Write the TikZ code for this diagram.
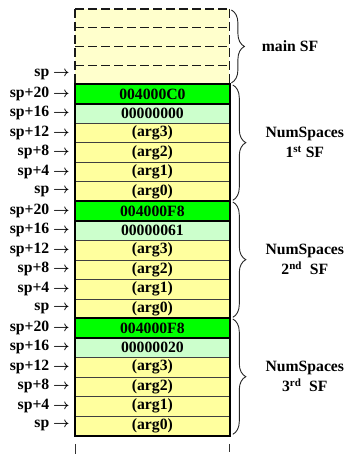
\documentclass[tikz,border=0pt]{standalone}
\usepackage{fontspec}
\setmainfont{Liberation Serif}
\usetikzlibrary{decorations.pathreplacing}

\definecolor{mainfill}{HTML}{FFFFCC}
\definecolor{argfill}{HTML}{FFFF9E}
\definecolor{rafill}{HTML}{00FF00}
\definecolor{fpfill}{HTML}{CCFFCC}

\newcommand\dgfont{\fontsize{15.7}{20}\selectfont\bfseries}
\newcommand\ptr{\ {\boldmath$\rightarrow$}}

\tikzset{
  cell/.style={draw=black!75, line width=0.8pt, minimum width=154pt,
    minimum height=19.5pt, inner sep=0pt, anchor=north west, font=\dgfont},
  maincell/.style={fill=mainfill, minimum width=154pt, minimum height=18.75pt,
    inner sep=0pt, anchor=north west},
  racell/.style={cell, fill=rafill},
  fpcell/.style={cell, fill=fpfill},
  argcell/.style={cell, fill=argfill},
  dashline/.style={draw=black!90, line width=1.4pt, dash pattern=on 9pt off 4pt},
  frameline/.style={draw=black, line width=2.6pt},
  sepline/.style={draw=black, line width=1.8pt},
  lbl/.style={anchor=east, inner sep=0pt, font=\dgfont},
  sfbrace/.style={draw=black!85, line width=0.9pt, decorate,
    decoration={brace, amplitude=13pt, aspect=0.5}},
  sflabel/.style={align=center, font=\dgfont, inner sep=0pt},
  tick/.style={draw=black!80, line width=0.9pt}
}

\begin{document}
\begin{tikzpicture}[x=1pt,y=-1pt]
\useasboundingbox (0,0) rectangle (345,454);

% caller's (main) stack frame, partly shown
\foreach \k in {0,...,3}
  \node[maincell] (m\k) at (75,9+\k*18.75) {};
\foreach \k in {0,...,3}
  \draw[dashline] (m\k.north west) -- (m\k.north east);
\draw[dashline] (m0.north west) -- (m3.south west);
\draw[dashline] (m0.north east) -- (m3.south east);
\node[lbl] (lm) at (70,74.6) {sp\ptr};

% three NumSpaces frames
\foreach \f/\top/\ra/\fp in {1/84/004000C0/00000000, 2/201/004000F8/00000061, 3/318/004000F8/00000020}{
  \node[racell] (f\f r0) at (75,\top) {\ra};
  \node[fpcell] (f\f r1) at (75,\top+19.5) {\fp};
  \foreach \k/\a in {2/3, 3/2, 4/1, 5/0}
    \node[argcell] (f\f r\k) at (75,\top+\k*19.5) {(arg\a)};
  \foreach \k/\off in {0/20, 1/16, 2/12, 3/8, 4/4}
    \node[lbl] (l\f r\k) at (70,\top+\k*19.5+9.75) {sp+\off\ptr};
  \node[lbl] (l\f r5) at (70,\top+5*19.5+9.75) {sp\ptr};
  \draw[sepline] (f\f r0.south west) -- (f\f r0.south east);
  \draw[frameline] (f\f r0.north west) rectangle (f\f r5.south east);
}

% braces and frame names
\draw[sfbrace] ([xshift=2pt,yshift=-1pt]m0.north east) -- ([xshift=2pt,yshift=1.5pt]m3.south east)
  node[midway, anchor=west, xshift=30pt, sflabel] (nm) {main SF};
\draw[sfbrace] ([xshift=3pt,yshift=-1pt]f1r0.north east) -- ([xshift=3pt,yshift=1.5pt]f1r5.south east)
  node[midway, xshift=72pt, sflabel] (n1) {NumSpaces\\1\textsuperscript{st} SF};
\draw[sfbrace] ([xshift=3pt,yshift=-1pt]f2r0.north east) -- ([xshift=3pt,yshift=1.5pt]f2r5.south east)
  node[midway, xshift=72pt, sflabel] (n2) {NumSpaces\\2\textsuperscript{nd}\ \ SF};
\draw[sfbrace] ([xshift=3pt,yshift=-1pt]f3r0.north east) -- ([xshift=3pt,yshift=1.5pt]f3r5.south east)
  node[midway, xshift=72pt, sflabel] (n3) {NumSpaces\\3\textsuperscript{rd}\ \ SF};

% stack continues below
\draw[tick] ([yshift=-8pt]f3r5.south west) -- ++(0,11);
\draw[tick] ([yshift=-8pt]f3r5.south east) -- ++(0,8);
\end{tikzpicture}
\end{document}
